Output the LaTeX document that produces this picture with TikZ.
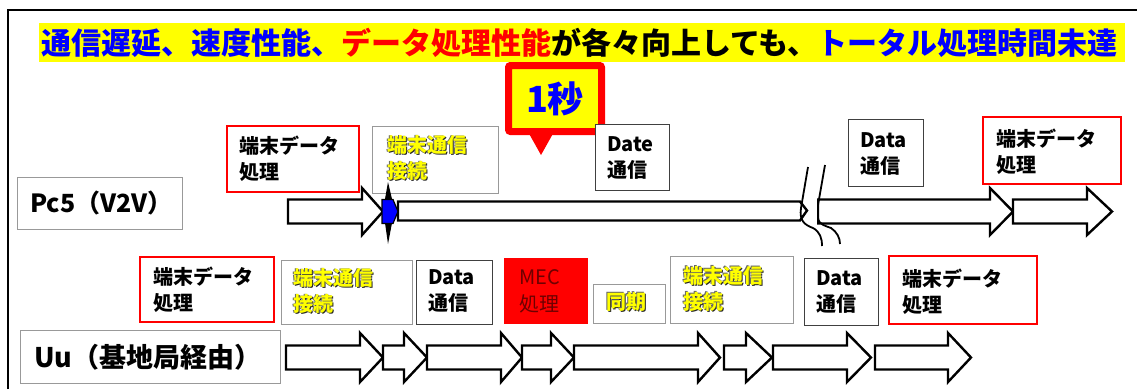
\documentclass[tikz,border=0pt]{standalone}
\usepackage{fontspec}
\newfontfamily\jp{Noto Sans CJK JP}
\definecolor{tblue}{RGB}{0,0,255}
\definecolor{tred}{RGB}{255,0,0}
\definecolor{tyel}{RGB}{255,255,0}
\definecolor{mecred}{RGB}{110,0,0}
\newcommand\yt[1]{\leavevmode\rlap{\color{black!85}\kern0.9pt\raisebox{-0.9pt}{#1}}\rlap{\color{black!60}\kern-0.4pt\raisebox{0.4pt}{#1}}{\color{tyel}#1}}
\newcommand\bx[6]{\node[#1,anchor=north west,minimum width=#5-#3,minimum height=#6-#4] (#2) at (#3,#4) {};}
\newcommand\barr[5]{\draw[arr] (#1,#4-12) -- (#2,#4-12) -- (#2,#4-#5) -- (#3,#4) -- (#2,#4+#5) -- (#2,#4+12) -- (#1,#4+12) -- cycle;}
\begin{document}
\begin{tikzpicture}[x=1pt,y=-1pt,
  arr/.style={draw=black,line width=2.4pt,fill=white,line join=miter},
  gbox/.style={draw=black!40,line width=0.9pt,fill=white,inner sep=0pt,outer sep=0pt},
  dbox/.style={draw=black!75,line width=0.9pt,fill=white,inner sep=0pt,outer sep=0pt},
  rbox/.style={draw=tred,line width=2pt,fill=white,inner sep=0pt,outer sep=0pt},
  mbox/.style={fill=tred,inner sep=0pt,outer sep=0pt},
  txt/.style={anchor=west,inner sep=0pt,align=left,font=\jp\bfseries\fontsize{20}{26}\selectfont},
  mtxt/.style={anchor=west,inner sep=0pt,align=left,text=mecred,font=\jp\fontsize{20}{27}\selectfont},
]
\useasboundingbox (0,0) rectangle (1137,389);
% frame
\draw[line width=2.5pt] (8,389) -- (8,10) -- (1137,10);
% title
\fill[tyel] (39,23) rectangle (1125,62);
\node[anchor=west,inner sep=0pt,font=\jp\bfseries\fontsize{30}{36}\selectfont] (title) at (41,43)
 {\color{tblue}通信遅延、速度性能、\color{tred}データ処理性能\color{black}が各々向上しても、\color{tblue}トータル処理時間未達};
% callout
\fill[tred] (527,130) -- (541,155) -- (555,130) -- cycle;
\node[draw=tred,line width=7pt,fill=tyel,rounded corners=2pt,minimum width=93pt,minimum height=66pt,inner sep=0pt,
  text=tblue,font=\jp\bfseries\fontsize{36}{40}\selectfont] (sec) at (555,98.5) {1秒};
% Pc5 row boxes
\bx{gbox}{pl}{17}{177}{182}{229}
\bx{rbox}{p1}{227}{126}{359}{192}
\bx{gbox}{p2}{372}{126}{498}{193}
\bx{dbox}{p3}{595}{124}{669}{190}
\bx{dbox}{p4}{848}{119}{923}{186}
\bx{rbox}{p5}{983}{117}{1121}{184}
\node[anchor=west,inner sep=0pt,font=\jp\bfseries\fontsize{25}{30}\selectfont] (plt) at (30,203) {Pc5（V2V）};
\node[txt] (p1t) at (239,159) {端末データ\\処理};
\node[txt] (p2t) at (387,158.5) {\yt{端末通信}\\\yt{接続}};
\node[txt] (p3t) at (607,157.5) {Date\\通信};
\node[txt] (p4t) at (860,154) {Data\\通信};
\node[txt] (p5t) at (996,151.5) {端末データ\\処理};
% Uu row boxes
\bx{gbox}{ul}{20}{330}{280}{383}
\bx{rbox}{u1}{140}{257}{274}{322}
\bx{gbox}{u2}{281}{260}{412}{324}
\bx{dbox}{u3}{416}{260}{492}{324}
\bx{mbox}{u4}{504}{258}{588}{324}
\bx{gbox}{u5}{593}{284}{665}{323}
\bx{gbox}{u6}{670}{256}{793}{323}
\bx{dbox}{u7}{804}{258}{878}{325}
\bx{rbox}{u8}{889}{256}{1037}{324}
\node[anchor=west,inner sep=0pt,font=\jp\bfseries\fontsize{27}{32}\selectfont] (ult) at (34,357) {Uu（基地局経由）};
\node[txt] (u1t) at (153,290) {端末データ\\処理};
\node[txt] (u2t) at (293,291.5) {\yt{端末通信}\\\yt{接続}};
\node[txt] (u3t) at (428,291) {Data\\通信};
\node[mtxt] (u4t) at (519,291.5) {MEC\\処理};
\node[txt] (u5t) at (606,302) {\yt{同期}};
\node[txt] (u6t) at (683,289) {\yt{端末通信}\\\yt{接続}};
\node[txt] (u7t) at (816,291.5) {Data\\通信};
\node[txt] (u8t) at (902,291.5) {端末データ\\処理};
% Pc5 arrows
\barr{288}{362}{383}{211.5}{23.5}
\draw[arr] (398,201.5) -- (800,201.5) -- (807,210.5) -- (800,220.5) -- (398,220.5) -- cycle;
\barr{818}{990}{1013}{211.5}{23.5}
\barr{1013}{1087}{1112}{211.5}{23.5}
% spike and blue marker
\fill[black] (388,182) -- (392,199) -- (397,211) -- (392,223) -- (388,244) -- (385,223) -- (385,199) -- cycle;
\draw[fill=tblue,line width=1.2pt] (382,199.5) -- (393,199.5) -- (398,211.5) -- (393,223.5) -- (382,223.5) -- cycle;
% break marks
\fill[white] (809,195) rectangle (817,228);
\draw[line width=1.8pt] (808,167) -- (801,208) .. controls (799,221) and (805,225) .. (813,228) .. controls (820,232) and (822,238) .. (822,246);
\draw[line width=1.8pt] (825,165) -- (818,205) -- (818,218) .. controls (819,225) and (826,226) .. (831,228) .. controls (837,232) and (840,238) .. (840,244);
% Uu arrows
\barr{286}{360}{383}{357.5}{24.5}
\barr{383}{404}{427}{357.5}{24.5}
\barr{427}{501}{522}{357.5}{24.5}
\barr{522}{551}{574}{357.5}{24.5}
\barr{574}{698}{720}{357.5}{24.5}
\barr{724}{746}{772}{357.5}{24.5}
\barr{773}{847}{871}{357.5}{24.5}
\barr{875}{948}{971}{357.5}{24.5}
\end{tikzpicture}
\end{document}
